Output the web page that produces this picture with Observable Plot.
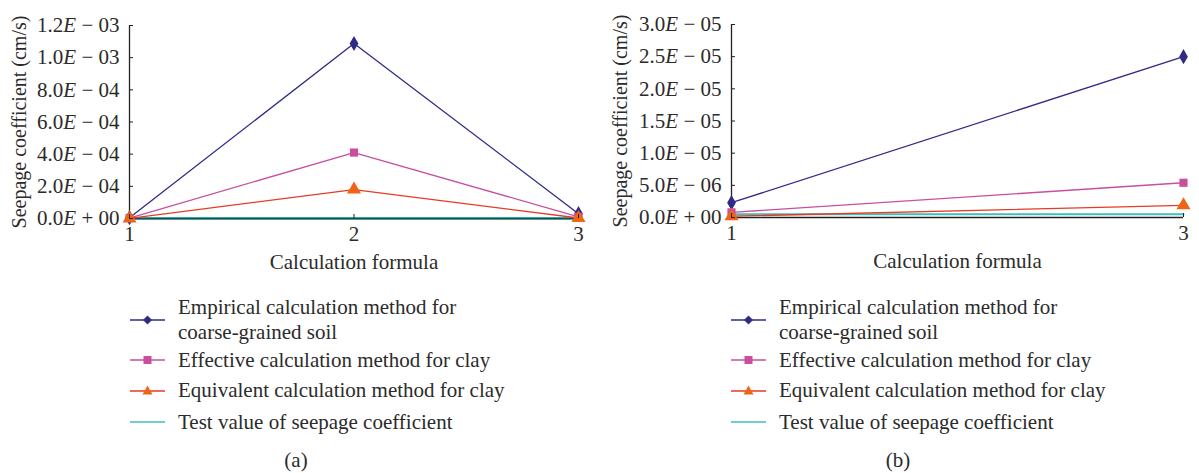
<!DOCTYPE html>
<html><head><meta charset="utf-8">
<script src="https://cdn.jsdelivr.net/npm/d3@7"></script>
<script src="https://cdn.jsdelivr.net/npm/@observablehq/plot@0.6"></script>
<style>
body{margin:0;background:#fff;font-family:"Liberation Serif",serif;color:#2b2b2b;}
#wrap{position:relative;width:1199px;height:473px;overflow:hidden;}
.panel{position:absolute;top:0;}
.legend{position:absolute;top:294px;font-size:21px;}
.row{display:flex;align-items:center;}
.row svg{flex:none;margin-right:13px;}
.row span{line-height:25px;white-space:nowrap;}
.cap{position:absolute;top:448px;font-size:21px;width:60px;text-align:center;}
</style></head><body><div id="wrap"></div>
<script>
// ---- data ----
const seriesNames = [
  "Empirical calculation method for coarse-grained soil",
  "Effective calculation method for clay",
  "Equivalent calculation method for clay",
  "Test value of seepage coefficient"
];
const lineColors = ["#2e2a86", "#c94f9e", "#e63b24", "#3ebfbd"];
const markerColors = ["#2e2a86", "#c94f9e", "#f06418", null];
const symbols = ["diamond", "square", "triangle", null];

const formulaA = [1, 2, 3];
const empiricalA = [5e-6, 1.088e-3, 3.0e-5];
const effectiveA = [3e-6, 4.1e-4, 1.0e-5];
const equivalentA = [1e-6, 1.8e-4, 3e-6];
const testA = [5e-7, 5e-7, 5e-7];
const yTicksA = [0, 2e-4, 4e-4, 6e-4, 8e-4, 1.0e-3, 1.2e-3];
const xTicksA = [1, 2, 3];

const formulaB = [1, 3];
const empiricalB = [2.3e-6, 2.5e-5];
const effectiveB = [0.8e-6, 5.4e-6];
const equivalentB = [0.2e-6, 1.9e-6];
const testB = [0.5e-6, 0.5e-6];
const yTicksB = [0, 5e-6, 1.0e-5, 1.5e-5, 2.0e-5, 2.5e-5, 3.0e-5];
const xTicksB = [1, 3];

const yLabel = "Seepage coefficient (cm/s)";
const xLabel = "Calculation formula";

// ---- helpers ----
function sci(v) {
  if (v === 0) return "0.0E + 00";
  const e = Math.floor(Math.log10(v) + 1e-9);
  const m = v / Math.pow(10, e);
  return m.toFixed(1) + "E " + (e < 0 ? "\u2212" : "+") + " " + String(Math.abs(e)).padStart(2, "0");
}
function tidy(xs, cols) {
  return cols.map((vals, k) => xs.map((x, i) => ({x, y: vals[i], series: seriesNames[k]})));
}

function makePanel(cfg) {
  const sets = tidy(cfg.xs, cfg.cols);
  const marks = [];
  marks.push(Plot.line(sets[3], {x: "x", y: "y", stroke: lineColors[3], strokeWidth: cfg.testWidth}));
  marks.push(Plot.ruleY([0], {stroke: "#222", strokeWidth: 1.3, strokeOpacity: cfg.axisOpacity}));
  marks.push(Plot.ruleX([cfg.xs[0]], {stroke: "#222", strokeWidth: 1.3}));
  for (let k = 0; k < 3; k++) {
    marks.push(Plot.line(sets[k], {x: "x", y: "y", stroke: lineColors[k], strokeWidth: 1.3}));
  }
  for (let k = 0; k < 3; k++) {
    marks.push(Plot.dot(sets[k], {x: "x", y: "y", symbol: () => symbols[k], fill: markerColors[k], stroke: "none", r: k === 2 ? 5.2 : 4.6}));
  }
  marks.push(Plot.axisY({ticks: cfg.yTicks, tickFormat: sci, tickSize: 0, tickPadding: 10, label: yLabel, labelAnchor: "center", labelArrow: "none", labelOffset: cfg.yLabelOffset}));
  marks.push(Plot.axisY({ticks: cfg.yTicks, tickSize: 4, dx: 4, text: null, label: null, stroke: "#222"}));
  marks.push(Plot.axisX({ticks: cfg.xTicks, tickFormat: d => String(d), tickSize: 0, tickPadding: 8, label: xLabel, labelAnchor: "center", labelArrow: "none", labelOffset: 50}));
  marks.push(Plot.axisX({ticks: cfg.xTicks, tickSize: 4, dy: -4, text: null, label: null, stroke: "#222"}));

  const svg = Plot.plot({
    width: cfg.width, height: 280,
    marginLeft: cfg.ml, marginRight: cfg.mr, marginTop: cfg.mt, marginBottom: 280 - cfg.zeroY,
    style: {fontFamily: "Liberation Serif, serif", fontSize: "21px", color: "#2b2b2b", background: "transparent", overflow: "visible"},
    x: {domain: [1, 3]},
    y: {domain: cfg.yDomain},
    symbol: {type: "identity"},
    marks
  });
  svg.querySelectorAll('g[aria-label="y-axis label"] text').forEach(t => t.setAttribute("font-size", "20px"));
  // italic E in tick labels
  svg.querySelectorAll('g[aria-label="y-axis tick label"] text').forEach(t => {
    const s = t.textContent;
    const i = s.indexOf("E");
    if (i < 0) return;
    t.textContent = "";
    const ns = "http://www.w3.org/2000/svg";
    const a = document.createElementNS(ns, "tspan"); a.textContent = s.slice(0, i);
    const b = document.createElementNS(ns, "tspan"); b.textContent = "E"; b.setAttribute("font-style", "italic");
    const c = document.createElementNS(ns, "tspan"); c.textContent = s.slice(i + 1);
    t.append(a, b, c);
  });
  return svg;
}

const wrap = document.getElementById("wrap");

function addPanel(left, cfg) {
  const div = document.createElement("div");
  div.className = "panel";
  div.style.left = left + "px";
  div.appendChild(makePanel(cfg));
  wrap.appendChild(div);
}

addPanel(0, {width: 600, ml: 129, mr: 22, mt: 25, zeroY: 218, xs: formulaA,
  cols: [empiricalA, effectiveA, equivalentA, testA], yTicks: yTicksA, xTicks: xTicksA,
  yDomain: [0, 1.2e-3], yLabelOffset: 118, testWidth: 3, axisOpacity: 0.75});
addPanel(600, {width: 599, ml: 131, mr: 16, mt: 24, zeroY: 217, xs: formulaB,
  cols: [empiricalB, effectiveB, equivalentB, testB], yTicks: yTicksB, xTicks: xTicksB,
  yDomain: [0, 3.0e-5], yLabelOffset: 119, testWidth: 2, axisOpacity: 1});

// ---- legends ----
const legendLines = [
  ["Empirical calculation method for", "coarse-grained soil"],
  ["Effective calculation method for clay"],
  ["Equivalent calculation method for clay"],
  ["Test value of seepage coefficient"]
];
function swatch(k) {
  const c = lineColors[k];
  let m = "";
  if (symbols[k] === "diamond") m = `<path d="M17.5,5.5L22,10L17.5,14.5L13,10Z" fill="${markerColors[k]}"/>`;
  if (symbols[k] === "square") m = `<rect x="13.5" y="6" width="8" height="8" fill="${markerColors[k]}"/>`;
  if (symbols[k] === "triangle") m = `<path d="M17.5,4.5L22.5,13.5L12.5,13.5Z" fill="${markerColors[k]}"/>`;
  return `<svg width="35" height="20"><line x1="0" x2="35" y1="10" y2="10" stroke="${c}" stroke-width="1.4"/>${m}</svg>`;
}
function addLegend(left) {
  const d = document.createElement("div");
  d.className = "legend";
  d.style.left = left + "px";
  const heights = [51, 30, 31, 32];
  d.innerHTML = legendLines.map((ls, k) =>
    `<div class="row" style="height:${heights[k]}px">${swatch(k)}<span>${ls.join("<br>")}</span></div>`).join("");
  wrap.appendChild(d);
}
addLegend(130);
addLegend(731);

function addCap(text, cx) {
  const d = document.createElement("div");
  d.className = "cap";
  d.style.left = (cx - 30) + "px";
  d.textContent = text;
  wrap.appendChild(d);
}
addCap("(a)", 296);
addCap("(b)", 898);
</script>
</body></html>
